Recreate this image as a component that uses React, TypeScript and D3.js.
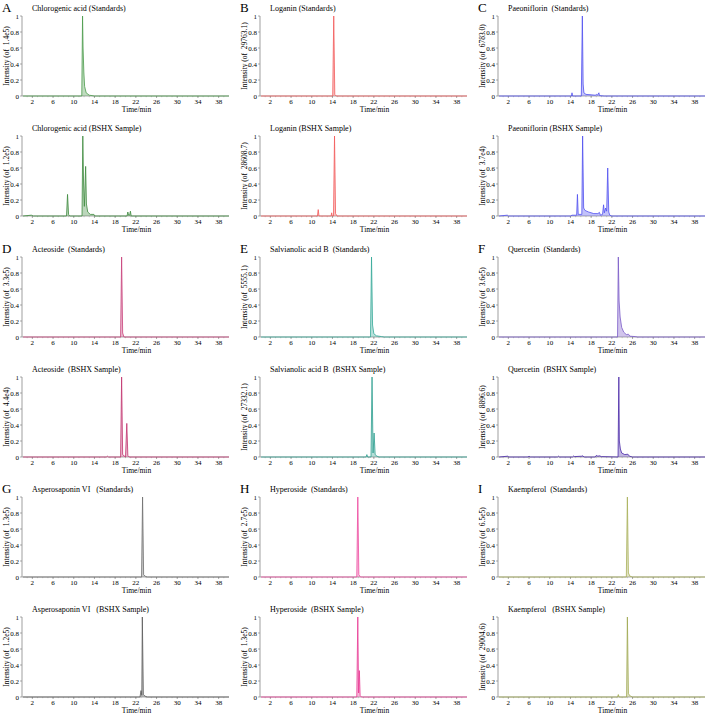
import React from "react";
import * as d3 from "d3";

type Pt = [number, number];

// ---- trace data (time/min, normalized intensity) ----
const chlorogenicStd: Pt[] = [[0.2,0],[11.55,0],[11.7,1.0],[11.8,0.6],[11.95,0.3],[12.1,0.12],[12.4,0.04],[13.0,0.01],[14,0],[40,0]];
const chlorogenicSmp: Pt[] = [[0.2,0],[1.8,0.01],[2.2,0],[8.6,0],[8.8,0.27],[9.0,0.02],[9.2,0],[11.6,0],[11.75,1.0],[11.9,0.4],[12.05,0.12],[12.3,0.62],[12.45,0.15],[12.7,0.05],[13.2,0.02],[13.9,0.02],[14.1,0],[20.3,0],[20.45,0.05],[20.6,0.01],[20.8,0.01],[20.95,0.06],[21.1,0],[40,0]];
const loganinStd: Pt[] = [[0.2,0],[14.05,0],[14.25,1.0],[14.45,0.02],[14.7,0],[40,0]];
const loganinSmp: Pt[] = [[0.2,0],[11.1,0],[11.25,0.08],[11.4,0],[13.75,0],[13.85,0.04],[13.95,0],[14.2,0],[14.4,1.0],[14.6,0.03],[14.9,0],[40,0]];
const paeoniflorinStd: Pt[] = [[0.2,0],[14.2,0],[14.3,0.04],[14.4,0],[16.1,0],[16.3,1.0],[16.45,0.15],[16.6,0.04],[17.0,0.02],[18.0,0.015],[18.8,0.01],[19.0,0.02],[19.2,0.01],[19.5,0.04],[19.6,0.005],[20.5,0],[40,0]];
const paeoniflorinSmp: Pt[] = [[0.2,0],[1.8,0.01],[2.0,0],[14.0,0],[14.3,0.01],[15.2,0.01],[15.35,0.27],[15.5,0.02],[16.2,0.02],[16.35,1.0],[16.55,0.1],[16.8,0.07],[17.5,0.05],[18.5,0.03],[19.3,0.03],[19.6,0.045],[19.8,0.01],[20.2,0.02],[20.4,0.14],[20.55,0.04],[20.8,0.1],[21.0,0.06],[21.2,0.6],[21.4,0.05],[21.6,0.01],[22,0],[40,0]];
const acteosideStd: Pt[] = [[0.2,0],[19.05,0],[19.25,1.0],[19.45,0.05],[19.7,0],[40,0]];
const acteosideSmp: Pt[] = [[0.2,0],[16.3,0],[16.5,0.01],[16.7,0],[19.05,0],[19.25,1.0],[19.45,0.03],[20.0,0],[20.25,0.42],[20.45,0.02],[20.7,0],[40,0]];
const salvianolicStd: Pt[] = [[0.2,0],[21.35,0],[21.55,1.0],[21.75,0.15],[22.0,0.04],[22.5,0.015],[23.5,0.005],[24,0],[40,0]];
const salvianolicSmp: Pt[] = [[0.2,0],[20.5,0],[20.65,0.03],[20.8,0],[21.45,0],[21.65,1.0],[21.85,0.05],[22.05,0.3],[22.25,0.03],[22.6,0.01],[23,0],[40,0]];
const quercetinStd: Pt[] = [[0.2,0],[23.1,0],[23.25,1.0],[23.4,0.45],[23.6,0.25],[23.9,0.12],[24.3,0.06],[24.8,0.03],[25.2,0.035],[25.5,0.01],[26.5,0.005],[27,0],[40,0]];
const quercetinSmp: Pt[] = [[0.2,0],[1.9,0.01],[2.1,0],[5.8,0],[6.0,0.01],[6.2,0],[11.5,0],[11.7,0.01],[11.9,0],[14.4,0],[14.6,0.012],[14.8,0.005],[16.2,0.01],[16.4,0.015],[16.6,0],[18.8,0],[19.0,0.02],[19.3,0.01],[19.6,0.015],[20,0.005],[23.2,0],[23.35,1.0],[23.45,0.2],[23.65,0.1],[23.9,0.05],[24.5,0.03],[25.1,0.035],[25.4,0.01],[26,0],[40,0]];
const asperosaponinStd: Pt[] = [[0.2,0],[23.1,0],[23.3,1.0],[23.5,0.03],[23.8,0.01],[24.2,0],[40,0]];
const asperosaponinSmp: Pt[] = [[0.2,0],[22.8,0],[23.0,0.08],[23.15,0.02],[23.25,1.0],[23.45,0.03],[23.8,0.01],[24.2,0],[40,0]];
const hyperosideStd: Pt[] = [[0.2,0],[18.7,0],[18.9,1.0],[19.1,0.03],[19.4,0],[40,0]];
const hyperosideSmp: Pt[] = [[0.2,0],[18.7,0],[18.9,1.0],[19.05,0.05],[19.2,0.33],[19.35,0.02],[19.6,0],[40,0]];
const kaempferolStd: Pt[] = [[0.2,0],[24.8,0],[25.0,1.0],[25.2,0.05],[25.5,0.01],[26,0],[40,0]];
const kaempferolSmp: Pt[] = [[0.2,0],[23.1,0],[23.25,0.03],[23.4,0],[24.85,0],[25.0,1.0],[25.2,0.04],[25.6,0.01],[26,0],[40,0]];

const panelLetters = ["A", "B", "C", "D", "E", "F", "G", "H", "I"];
const stdTitles = [
  "Chlorogenic acid (Standards)", "Loganin (Standards)", "Paeoniflorin  (Standards)",
  "Acteoside  (Standards)", "Salvianolic acid B  (Standards)", "Quercetin  (Standards)",
  "Asperosaponin VI   (Standards)", "Hyperoside  (Standards)", "Kaempferol  (Standards)",
];
const smpTitles = [
  "Chlorogenic acid (BSHX Sample)", "Loganin (BSHX Sample)", "Paeoniflorin (BSHX Sample)",
  "Acteoside  (BSHX Sample)", "Salvianolic acid B  (BSHX Sample)", "Quercetin  (BSHX Sample)",
  "Asperosaponin VI   (BSHX Sample)", "Hyperoside  (BSHX Sample)", "Kaempferol   (BSHX Sample)",
];
const stdScales = ["1.4e5", "29763.1", "6783.0", "3.3e5", "5555.1", "3.6e5", "1.3e5", "2.7e5", "6.5e5"];
const smpScales = ["1.2e5", "28608.7", "3.7e4", "4.4e4", "27332.1", "8896.6", "1.2e5", "1.3e5", "29004.6"];
const stdTraces = [chlorogenicStd, loganinStd, paeoniflorinStd, acteosideStd, salvianolicStd, quercetinStd, asperosaponinStd, hyperosideStd, kaempferolStd];
const smpTraces = [chlorogenicSmp, loganinSmp, paeoniflorinSmp, acteosideSmp, salvianolicSmp, quercetinSmp, asperosaponinSmp, hyperosideSmp, kaempferolSmp];
const stdColors = ["#4a9a4a", "#f25a5a", "#5050f0", "#c8407a", "#35a898", "#7a5ac8", "#6e6e6e", "#ee4aa0", "#a8b058"];
const smpColors = ["#3d8a3d", "#f25a5a", "#5050f0", "#c2336f", "#2fa090", "#4a2aa8", "#5a5a5a", "#e83a94", "#a0a850"];
const xTicks = [2, 6, 10, 14, 18, 22, 26, 30, 34, 38];
const yTicks = [0, 0.2, 0.4, 0.6, 0.8, 1];

const FONT = "'Liberation Serif', 'Times New Roman', serif";
const colX0 = [22, 260, 498];
const rowTop = [16, 257, 497];
const PW = 207;
const PH = 80;

function Chrom({ x0, top, title, scale, data, color }: { x0: number; top: number; title: string; scale: string; data: Pt[]; color: string }) {
  const x = d3.scaleLinear().domain([0, 40]).range([x0, x0 + PW]);
  const y = d3.scaleLinear().domain([0, 1]).range([top + PH, top]);
  const line = d3.line<Pt>().x((d) => x(d[0])).y((d) => y(d[1]));
  const area = d3.area<Pt>().x((d) => x(d[0])).y0(y(0)).y1((d) => y(d[1]));
  const minor = d3.range(1, 40, 1);
  const bottom = top + PH;
  return (
    <g>
      <text x={x0 + 10} y={top - 5} fontSize={8} fontFamily={FONT} style={{ whiteSpace: "pre" }}>{title}</text>
      <text
        transform={`translate(${x0 - 13},${top + PH / 2}) rotate(-90)`}
        textAnchor="middle"
        fontSize={7.5}
        fontFamily={FONT}
        style={{ whiteSpace: "pre" }}
      >{`Intensity (of  ${scale})`}</text>
      {/* axes */}
      <line x1={x0} x2={x0} y1={top} y2={bottom} stroke="#777" strokeWidth={0.7} />
      <line x1={x0} x2={x0 + PW} y1={bottom} y2={bottom} stroke="#888" strokeWidth={0.7} />
      {yTicks.map((t) => (
        <g key={t}>
          <line x1={x0 - 2} x2={x0} y1={y(t)} y2={y(t)} stroke="#777" strokeWidth={0.6} />
          <text x={x0 - 3} y={y(t) + 2.5} textAnchor="end" fontSize={7} fontFamily={FONT}>{String(t)}</text>
        </g>
      ))}
      {minor.map((t) => (
        <line key={t} x1={x(t)} x2={x(t)} y1={bottom} y2={bottom + 1.2} stroke="#999" strokeWidth={0.5} />
      ))}
      {xTicks.map((t) => (
        <g key={t}>
          <line x1={x(t)} x2={x(t)} y1={bottom} y2={bottom + 2} stroke="#777" strokeWidth={0.6} />
          <text x={x(t)} y={bottom + 7.5} textAnchor="middle" fontSize={7} fontFamily={FONT}>{String(t)}</text>
        </g>
      ))}
      <text x={x0 + PW / 2 + 11} y={bottom + 16} textAnchor="middle" fontSize={7.5} fontFamily={FONT}>Time/min</text>
      {/* trace */}
      <path d={area(data) || ""} fill={color} fillOpacity={0.35} stroke="none" />
      <path d={line(data) || ""} fill="none" stroke={color} strokeWidth={0.8} />
    </g>
  );
}

export default function App() {
  return (
    <svg width={708} height={716} style={{ position: "absolute", left: 0, top: 0, background: "#fff" }}>
      <rect width={708} height={716} fill="#fff" />
      {panelLetters.map((L, i) => {
        const c = i % 3;
        const r = Math.floor(i / 3);
        const x0 = colX0[c];
        const top = rowTop[r];
        return (
          <g key={L}>
            <text x={x0 - 20} y={top - 4} fontSize={13} fontFamily={FONT}>{L}</text>
            <Chrom x0={x0} top={top} title={stdTitles[i]} scale={stdScales[i]} data={stdTraces[i]} color={stdColors[i]} />
            <Chrom x0={x0} top={top + 120} title={smpTitles[i]} scale={smpScales[i]} data={smpTraces[i]} color={smpColors[i]} />
          </g>
        );
      })}
    </svg>
  );
}
